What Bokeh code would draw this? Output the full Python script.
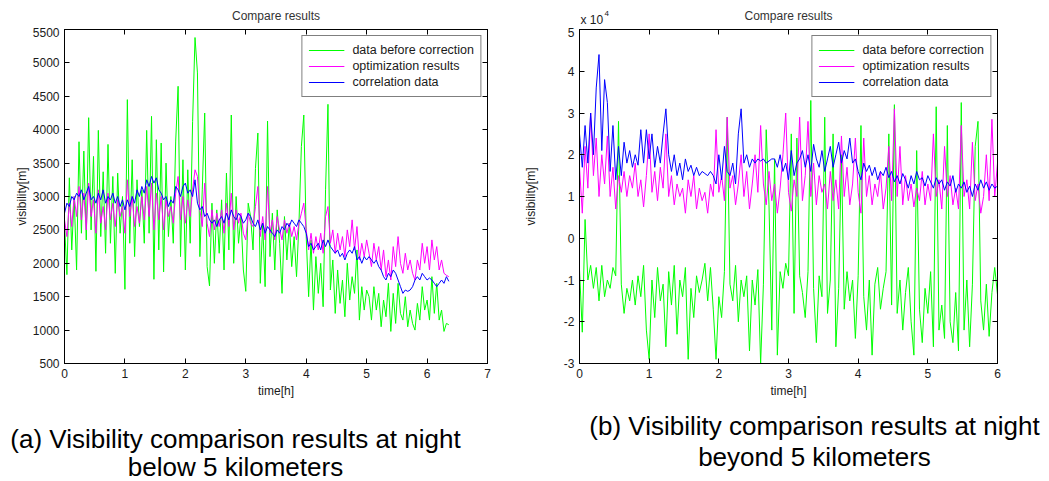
from bokeh.plotting import figure
from bokeh.models import (Range1d, LinearAxis, FixedTicker, Legend, LegendItem,
                          Label, CustomJSTickFormatter)
from bokeh.layouts import row, column
from bokeh.embed import file_html
from bokeh.resources import INLINE

# ---------------- data: panel (a), visibility in m, one sample every 0.04 h
a_before = [
    2600, 1830, 3280, 2200, 3000, 1900, 3820, 2450, 3680, 2350,
    4180, 2500, 3600, 1880, 3990, 2400, 3370, 2150, 3780, 2300,
    3300, 1850, 3350, 2450, 3000, 1610, 4450, 2300, 3550, 2100,
    3250, 2550, 3100, 2300, 3990, 2450, 4200, 1760, 3850, 2200,
    3800, 1870, 3500, 2400, 3000, 2300, 3830, 4650, 2100, 3550,
    1900, 3400, 2300, 4120, 5380, 4850, 2100, 3100, 4250, 1950,
    1660, 2900, 2000, 2800, 2150, 2950, 1900, 3350, 2200, 4220,
    2000, 3000, 2300, 2700, 1900, 1580, 2900, 2700, 2200, 3420,
    3950, 1700, 2600, 1650, 4130, 2100, 2750, 1900, 2800, 2300,
    1550, 2700, 2050, 2600, 1950, 2400, 1800, 2600, 3750, 4220,
    2400, 1500, 2350, 1300, 2100, 1550, 2000, 1350, 3100, 4380,
    1600, 2050, 1250, 1900, 1400, 1750, 1200, 2000, 1450, 1800,
    1550, 2200, 1150, 1650, 1300, 1600, 1500, 1150, 1650, 1300,
    1550, 1050, 1450, 1200, 1700, 980, 1550, 1100, 1700, 1250,
    1150, 1500, 1050, 1300, 1100, 1000, 1400, 1150, 1650, 1300,
    1450, 1150, 1800, 1250, 1700, 1150, 1300, 980, 1100, 1080,
]
a_optim = [
    2650, 2400, 2900, 2550, 3000, 2700, 3150, 2650, 3050, 2500,
    3200, 2700, 2950, 2450, 3100, 2600, 2850, 2500, 3050, 2650,
    2900, 2550, 2950, 2700, 2850, 2450, 3250, 2700, 3000, 2550,
    2850, 2600, 3000, 2650, 3150, 2700, 3200, 2500, 3050, 2650,
    3000, 2500, 2950, 2700, 2850, 2600, 3050, 3300, 2650, 3000,
    2600, 2950, 2700, 3100, 3400, 3300, 2800, 2550, 3200, 2600,
    2400, 2800, 2500, 2750, 2550, 2800, 2450, 2900, 2550, 3050,
    2500, 2800, 2600, 2750, 2450, 2350, 2750, 2600, 2550, 2850,
    3150, 2400, 2700, 2350, 3150, 2450, 2650, 2350, 2700, 2500,
    2350, 2650, 2450, 2600, 2400, 2550, 2350, 2600, 2750, 2900,
    2500, 2200, 2450, 2150, 2400, 2200, 2450, 2150, 2700, 2850,
    2300, 2500, 2150, 2450, 2200, 2400, 2100, 2500, 2250, 2650,
    2200, 2550, 2050, 2300, 2100, 2350, 2150, 1950, 2300, 2050,
    2250, 1900, 2200, 1800, 2050, 1750, 2250, 1950, 2400, 2000,
    1850, 2150, 1900, 2050, 1850, 1750, 2050, 1900, 2300, 2000,
    2250, 1900, 2350, 2050, 2250, 1900, 2050, 1850, 1820, 1800,
]
a_corr = [
    2750, 2900, 2850, 3000, 2950, 3050, 3000, 3100, 2950, 3050,
    3150, 2950, 3000, 2900, 3050, 2950, 3100, 2900, 3000, 2950,
    3050, 2900, 3000, 2850, 2950, 2800, 2950, 2850, 3000, 2900,
    3100, 3000, 3150, 3050, 3250, 3150, 3300, 3200, 3280, 3100,
    3050, 2950, 3000, 2850, 2950, 2900, 3150, 3100, 3000, 3150,
    3200, 3050, 3100, 3000, 3250, 2900, 2800, 2850, 2700, 2750,
    2650, 2600, 2650, 2550, 2650, 2700, 2600, 2750, 2650, 2800,
    2700, 2650, 2750, 2700, 2600, 2650, 2750, 2700, 2600, 2550,
    2650, 2500, 2600, 2450, 2550, 2500, 2450, 2400, 2500, 2450,
    2550, 2500, 2600, 2550, 2650, 2600, 2550, 2650, 2600, 2550,
    2450, 2250, 2300, 2200, 2250, 2300, 2200, 2350, 2250, 2350,
    2250, 2200, 2150, 2200, 2100, 2150, 2050, 2150, 2200, 2150,
    2250, 2050, 2100, 2000, 2100, 2050, 2100, 2050, 2000, 2050,
    1950, 1900, 1800, 1750, 1850, 1800, 1900, 1850, 1750, 1650,
    1550, 1600, 1580, 1600, 1650, 1750, 1800, 1750, 1850, 1800,
    1750, 1780, 1750, 1700, 1650, 1700, 1750, 1700, 1800, 1730,
]

# ---------------- data: panel (b), visibility in m, one sample every 0.04 h
b_before = [
    -7500, -22500, 4500, -10000, -6500, -12000, -7000, -15000, -6500, -14000,
    -10000, -12000, -7000, -9000, 28000, -11000, -18000, -12000, -15000, -10000,
    -16000, -9000, -14000, -6500, -22000, -29000, -10000, -19000, -7000, -15000,
    -11000, -26000, -8000, -16000, -6500, -23000, -10000, -14000, -7000, -29000,
    -12000, -19000, -9000, -13000, -10000, -6000, -15000, -7000, -17000, -29000,
    -14000, -19000, -8000, 29000, -11000, -15000, -6500, -20000, -10000, -14000,
    -9000, -27000, -10000, -16000, -7500, -30000, -11000, 26000, 8000, -22000,
    19000, -28000, -8000, -12000, -6000, -9000, 25000, -18000, 24000, -9000,
    -13000, -19000, -8000, 33000, -12000, -25000, -9000, -14000, 29000, -18000,
    -10000, 25000, -26000, -12000, 20000, -17000, -8000, -15000, -10000, -24000,
    -9000, 27000, -14000, -22000, -10000, -28000, -11000, -7000, -17000, -12000,
    -8000, 25000, -16000, 32000, -18000, -10000, -22000, -13000, -7000, -20000,
    -28000, 21000, -17000, -25000, -12000, -18000, -8000, -26000, 31500, -22000,
    -16000, -24000, 27000, -20000, -25000, -13000, -27000, 32500, -22000, -10000,
    -26000, -11000, 22000, 28000, -15000, -22000, -11000, -23500, -13000, -7000,
    -13500,
]
b_optim = [
    17000, 6000, 22000, 12000, 30000, 15000, 24000, 10000, 20000, 13000,
    24500, 10000, 17000, 7000, 15000, 11000, 16000, 10000, 15000, 12000,
    18000, 10000, 14000, 7500, 15000, 25000, 11000, 16000, 9000, 17000,
    12000, 25000, 10000, 15000, 8000, 13000, 10000, 12000, 6000, 14000,
    10000, 15000, 7000, 12000, 9000, 11000, 6000, 13000, 10000, 26000,
    11000, 15000, 9000, 29000, 12000, 15000, 8000, 13000, 20000, 10000,
    16000, 7000, 13000, 20000, 11000, 27000, 13000, 8000, 16000, 9000,
    13000, 6000, 12000, 20000, 30000, 11000, 6500, 14000, 10000, 29000,
    9000, 15000, 28000, 10000, 18000, 8000, 15000, 11000, 13000, 7000,
    16000, 9000, 14000, 7000, 24500, 10000, 17000, 8000, 13000, 24000,
    11000, 6000, 24000, 10000, 15000, 8000, 13000, 10000, 16000, 7000,
    12000, 22000, 9000, 31000, 10000, 22000, 8000, 15000, 9000, 13000,
    7500, 12000, 9000, 16000, 8000, 13000, 9000, 25000, 10000, 14000,
    7000, 22000, 10000, 15000, 8000, 12000, 7000, 27000, 10000, 14000,
    7000, 23000, 9000, 13000, 6000, 10000, 20000, 9000, 28500, 10000,
    18000,
]
b_corr = [
    25000, 17000, 27000, 18000, 30000, 20000, 36000, 44000, 21000, 38000,
    32500, 16000, 27000, 14000, 22000, 15000, 23000, 18000, 21000, 17000,
    20000, 17500, 26000, 18000, 26000, 19000, 25000, 17000, 22000, 18000,
    25000, 31000, 20000, 16000, 20000, 15000, 18000, 14000, 19000, 16000,
    17500, 15000, 17000, 15000, 16000, 15500, 15000, 16000, 15000, 13000,
    20000, 14000, 22000, 16000, 15000, 18000, 13000, 25000, 31000, 18000,
    20000, 17000, 19000, 18000, 19000, 18500, 19000, 18000, 18500, 19000,
    19000, 17000, 20000, 16000, 18000, 14000, 21000, 15000, 18000, 19000,
    21000, 17000, 20000, 16000, 22500, 19000, 17000, 21000, 16000, 19000,
    22000, 17000, 20000, 23000, 18000, 21000, 19000, 24000, 18000, 19000,
    16000, 14000, 18000, 16000, 17500, 15000, 17000, 14000, 16000, 15000,
    17000, 14500, 16000, 13500, 15000, 13000, 15500, 14000, 12000, 15000,
    13000, 16000, 14000, 14500, 12500, 15000, 13500, 12000, 14500, 13000,
    14000, 11500, 13500, 12500, 15000, 11000, 13000, 12000, 13500, 11000,
    12500, 10000, 13000, 11500, 14000, 12000, 13500, 11500, 13000, 12000,
    12500,
]

step_h = 0.04
series_names = ["data before correction", "optimization results", "correlation data"]
series_colors = ["#00ff00", "#ff00ff", "#0000ff"]

a_xticks = [0, 1, 2, 3, 4, 5, 6, 7]
a_yticks = [500, 1000, 1500, 2000, 2500, 3000, 3500, 4000, 4500, 5000, 5500]
b_xticks = [0, 1, 2, 3, 4, 5, 6]
b_yticks = [-30000, -20000, -10000, 0, 10000, 20000, 30000, 40000, 50000]

panel_title = "Compare results"
exp_base, exp_power = "x 10", "4"
captions_a = ["(a) Visibility comparison results at night", "below 5 kilometers"]
captions_b = ["(b) Visibility comparison results at night", "beyond 5 kilometers"]

FONT = "Liberation Sans"
TXT = "#1a1a1a"
TOTAL_W = 1044
TOP_H = 27


def times(vals):
    return [i * step_h for i in range(len(vals))]


def style_axis(ax, ticks):
    ax.ticker = FixedTicker(ticks=ticks)
    ax.major_tick_in = 5
    ax.major_tick_out = 0
    ax.minor_tick_line_color = None
    ax.axis_line_color = "black"
    ax.major_tick_line_color = "black"
    ax.major_label_text_font = FONT
    ax.major_label_text_font_size = "12px"
    ax.major_label_text_color = TXT
    ax.major_label_standoff = 5
    ax.axis_label_text_font = FONT
    ax.axis_label_text_font_size = "12px"
    ax.axis_label_text_font_style = "normal"
    ax.axis_label_text_color = TXT


def mirror_axis(p, ticks, side):
    ax = LinearAxis(ticker=FixedTicker(ticks=ticks),
                    major_label_text_font_size="0px", major_label_standoff=0,
                    major_tick_in=5, major_tick_out=0,
                    minor_tick_line_color=None, axis_line_color="black",
                    major_tick_line_color="black")
    p.add_layout(ax, side)


def panel(width, ml, mr, xr, yr, xticks, yticks, data, ylab_standoff, legend_margin, yfmt=None):
    p = figure(width=width, height=376, x_range=Range1d(*xr), y_range=Range1d(*yr),
               output_backend="svg", toolbar_location=None,
               min_border_left=ml, min_border_right=mr, min_border_top=2,
               min_border_bottom=40, background_fill_color="white",
               border_fill_color="white")
    p.grid.visible = False
    p.outline_line_color = "black"
    style_axis(p.xaxis[0], xticks)
    style_axis(p.yaxis[0], yticks)
    p.xaxis[0].axis_label = "time[h]"
    p.xaxis[0].axis_label_standoff = 3
    p.yaxis[0].axis_label = "visibility[m]"
    p.yaxis[0].axis_label_standoff = ylab_standoff
    if yfmt is not None:
        p.yaxis[0].formatter = yfmt
    mirror_axis(p, xticks, "above")
    mirror_axis(p, yticks, "right")

    items = []
    for vals, name, col in zip(data, series_names, series_colors):
        r = p.line(times(vals), vals, line_color=col, line_width=1)
        items.append(LegendItem(label=name, renderers=[r]))
    leg = Legend(items=items, location="top_right", border_line_color="black",
                 border_line_width=1, background_fill_color="white",
                 background_fill_alpha=1, label_text_font=FONT,
                 label_text_font_size="12.5px", label_text_color=TXT,
                 glyph_width=36, glyph_height=16, label_height=16,
                 label_standoff=8, padding=6, spacing=0, margin=legend_margin)
    p.add_layout(leg)
    return p


def text_strip(height, entries):
    s = figure(width=TOTAL_W, height=height, x_range=Range1d(0, TOTAL_W),
               y_range=Range1d(height, 0), output_backend="svg",
               toolbar_location=None, x_axis_type=None, y_axis_type=None,
               min_border=0, border_fill_color="white",
               background_fill_color="white")
    s.grid.visible = False
    s.outline_line_color = None
    for (cx, cy, align, size, color), txt in entries:
        s.add_layout(Label(x=cx, y=cy, text=txt, text_font=FONT,
                           text_font_size=size, text_color=color,
                           text_align=align, text_baseline="alphabetic"))
    return s


pa = panel(518, 64, 31, (0, 7), (500, 5500), a_xticks, a_yticks,
           [a_before, a_optim, a_corr], 1, 6)

fmt = CustomJSTickFormatter(code="return (tick / 10000).toString();")
pb = panel(TOTAL_W - 518, 61, 47, (0, 6), (-30000, 50000), b_xticks, b_yticks,
           [b_before, b_optim, b_corr], 23, 6, yfmt=fmt)

top = text_strip(TOP_H, [
    ((275.5, 15, "center", "12px", "#333333"), panel_title),
    ((788, 15, "center", "12px", "#333333"), panel_title),
    ((580, 19, "left", "12px", TXT), exp_base),
    ((604, 13, "left", "8px", TXT), exp_power),
])

bottom = text_strip(76, [
    ((235, 35, "center", "26px", "black"), captions_a[0]),
    ((235, 63, "center", "26px", "black"), captions_a[1]),
    ((814, 22, "center", "26px", "black"), captions_b[0]),
    ((814, 53, "center", "26px", "black"), captions_b[1]),
])

layout = column(top, row(pa, pb), bottom)
open("out.html", "w").write(file_html(layout, INLINE))
